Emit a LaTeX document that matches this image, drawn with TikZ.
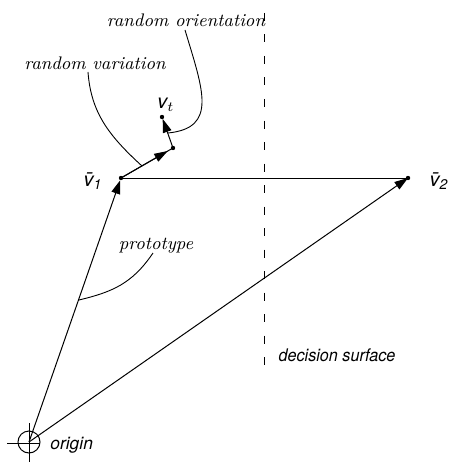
\documentclass[tikz,border=0pt]{standalone}
\usepackage{fontspec}
\setsansfont{TeX Gyre Heros}
\usetikzlibrary{arrows.meta}
\begin{document}
\begin{tikzpicture}[x=0.5pt,y=-0.5pt,
 ln/.style={line width=0.5pt},
 vec/.style={line width=0.5pt,-{Triangle[length=6.8pt,width=4.4pt]}},
 dot/.style={circle,fill,inner sep=0pt,minimum size=2.2pt},
 ser/.style={font=\fontsize{9.1}{11}\selectfont\itshape, inner sep=0pt},
 sans/.style={font=\fontsize{8.7}{10}\selectfont\sffamily\itshape, inner sep=0pt},
 vlab/.style={font=\fontsize{10}{12}\selectfont\sffamily\itshape, inner sep=0pt},
 lead/.style={line width=0.45pt},
]
\useasboundingbox (0,0) rectangle (454,465);
% points
\coordinate (O) at (29,442);
\coordinate (V1) at (121,178);
\coordinate (V2) at (408,178);
\coordinate (P) at (173,148);
\coordinate (VT) at (162,117);
% labels
\node[ser] (ro) at (186,20) {random orientation};
\node[ser] (rv) at (95,63) {random variation};
\node[ser] (pt) at (156,246) {prototype};
\node[sans] (ds) at (337,355) {\scalebox{0.93}[1]{decision surface}};
\node[sans,anchor=west] (og) at (50,445) {origin};
\node[vlab] (l1) at (93,181) {\=v\textsubscript{1}};
\node[vlab] (l2) at (439,181) {\=v\textsubscript{2}};
\node[vlab] (lt) at (166,105) {v$_{t}$};
% origin crosshair
\coordinate (cxl) at (7,443); \coordinate (cxr) at (40,443);
\coordinate (cyt) at (29,423); \coordinate (cyb) at (29,462);
\draw[ln] (O) circle (11);
\draw[ln] (cxl) -- (cxr);
\draw[ln] (cyt) -- (cyb);
% vectors
\draw[vec, shorten >=1.2pt] (O) -- (V1);
\draw[vec] (O) -- (V2);
\draw[ln] (V1) -- (V2);
\draw[ln] (V1) -- (P);
\draw[vec, shorten >=3pt] (V1) -- (P);
\draw[vec, shorten >=1pt] (P) -- (VT);
\foreach \p in {V1,V2,P,VT} \node[dot] at (\p) {};
% decision surface
\coordinate (dt) at (264,13);
\coordinate (db) at (264,372);
\draw[ln, dash pattern=on 4pt off 6.75pt] (dt) -- (db);
% leaders
\coordinate (roS) at (185,30);
\coordinate (roE) at (168,133);
\draw[lead] (roS) .. controls (203,90) and (218,128) .. (roE);
\coordinate (rvS) at (88,72);
\coordinate (rvE) at (142,166);
\draw[lead] (rvS) .. controls (91,112) and (108,135) .. (rvE);
\coordinate (ptS) at (153,253);
\coordinate (ptE) at (79,300);
\draw[lead] (ptS) .. controls (132,284) and (112,292) .. (ptE);
\end{tikzpicture}
\end{document}
